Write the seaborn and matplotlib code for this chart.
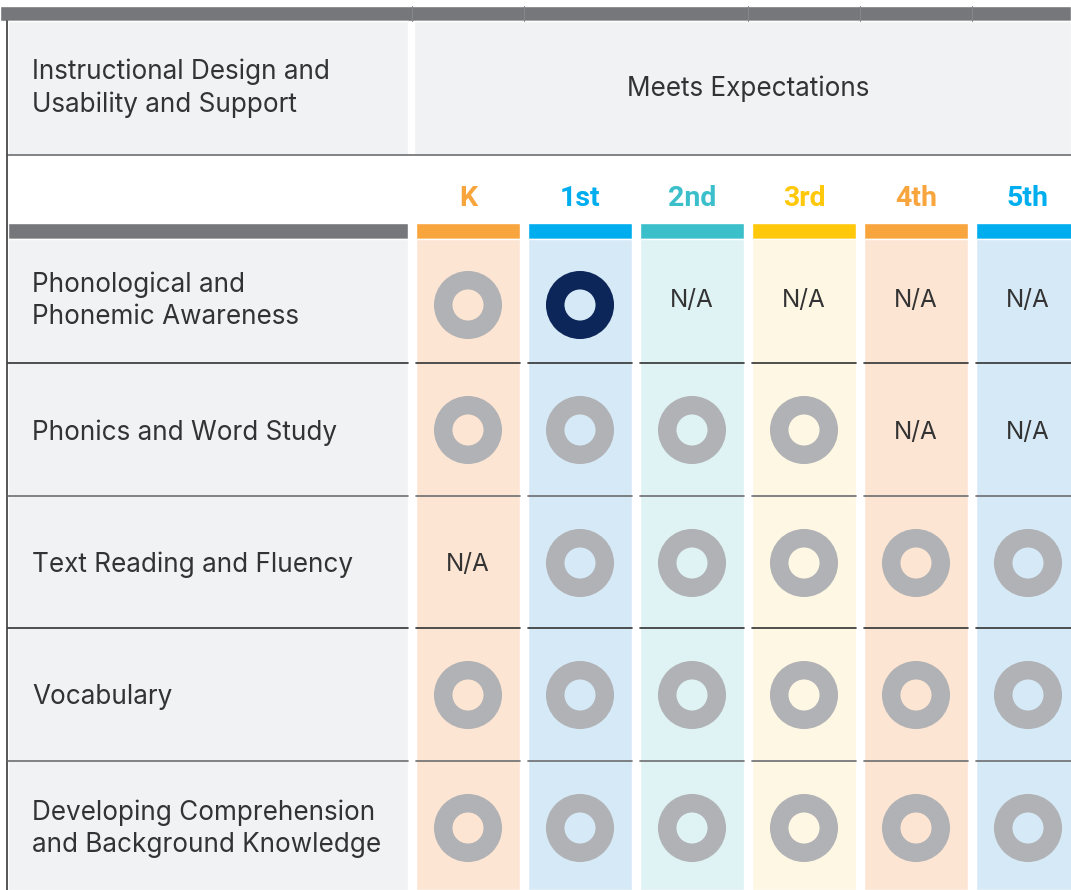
import matplotlib
matplotlib.use("Agg")
import matplotlib.pyplot as plt
import seaborn as sns
import pandas as pd

# table content
categories = [
    "Phonological and\nPhonemic Awareness",
    "Phonics and Word Study",
    "Text Reading and Fluency",
    "Vocabulary",
    "Developing Comprehension\nand Background Knowledge",
]
grades = ["K", "1st", "2nd", "3rd", "4th", "5th"]
# gray = standard rating, navy = highlighted rating, na = not applicable
ratings = [
    ["gray", "navy", "na", "na", "na", "na"],
    ["gray", "gray", "gray", "gray", "na", "na"],
    ["na", "gray", "gray", "gray", "gray", "gray"],
    ["gray", "gray", "gray", "gray", "gray", "gray"],
    ["gray", "gray", "gray", "gray", "gray", "gray"],
]
header_left = "Instructional Design and\nUsability and Support"
header_right = "Meets Expectations"

grade_colors = ["#f9a53e", "#00aeef", "#3bbfca", "#ffc80b", "#f9a53e", "#00aeef"]
grade_light = ["#fde5d4", "#d6e9f7", "#dff2f4", "#fef7e4", "#fde5d4", "#d6e9f7"]
ring_colors = {"gray": "#b1b2b5", "navy": "#0c2659"}
bar_gray = "#76777b"
cell_gray = "#f1f2f4"
text_col = "#333333"

sns.set_style("white")
plt.rcParams["font.family"] = ["Inter", "DejaVu Sans"]

fig = plt.figure(figsize=(10.71, 8.9), dpi=100)
ax = fig.add_axes([0, 0, 1, 1])
ax.set_xlim(0, 1071)
ax.set_ylim(890, 0)
ax.axis("off")

# layout (pixel units)
col_x0, col_w, col_step = 416, 104, 112
col_centers = [col_x0 + col_w / 2 + i * col_step for i in range(len(grades))]
row_bounds = [233, 363, 496, 628, 761, 890]
row_mid = [(a + b) / 2 for a, b in zip(row_bounds[:-1], row_bounds[1:])]
ring_y = [305, 430, 563, 695, 828]
left_x0, left_x1 = 8, 408
fs = 18.8

# top dark band
ax.bar(0, 15, width=1071, bottom=6, align="edge", color=bar_gray, zorder=1)
for sx in [412, 524, 748, 860, 972]:
    ax.plot([sx, sx], [6, 21], color="#86878b", lw=0.8, zorder=2)

# header cells
ax.bar(left_x0, 134, width=left_x1 - left_x0, bottom=21, align="edge", color=cell_gray, zorder=1)
ax.bar(414, 134, width=1071 - 414, bottom=21, align="edge", color=cell_gray, zorder=1)
ax.plot([left_x0, 1071], [155, 155], color="#6d6e71", lw=1.2, zorder=3)
ax.text(32, 88, header_left, ha="left", va="center", fontsize=fs,
        color=text_col, linespacing=1.3, zorder=4)
ax.text(748, 88.5, header_right, ha="center", va="center", fontsize=fs,
        color=text_col, zorder=4)

# grade header labels and color bars
ax.bar(left_x0, 16, width=left_x1 - left_x0, bottom=223, align="edge", color=bar_gray, zorder=1)
for i, g in enumerate(grades):
    x = col_x0 + i * col_step
    ax.bar(x, 16, width=col_w, bottom=223, align="edge", color=grade_colors[i], zorder=1)
    ax.bar(x, 890 - 239, width=col_w, bottom=239, align="edge", color=grade_light[i], zorder=1)
    ax.text(col_centers[i], 198, g, ha="center", va="center", fontsize=20.5, fontweight="bold",
            family="Roboto", color=grade_colors[i], zorder=4)

# left category cells
ax.bar(left_x0, 890 - 239, width=left_x1 - left_x0, bottom=239, align="edge", color=cell_gray, zorder=1)
ax.plot([7, 7], [21, 890], color="#3a3a3a", lw=1.2, zorder=3)
for k, yl in enumerate(row_bounds[1:-1]):
    lc = "#333333" if k % 2 == 0 else "#6d6e71"
    ax.plot([left_x0, left_x1], [yl, yl], color=lc, lw=1.2, zorder=3)
    for i in range(len(grades)):
        x = col_x0 + i * col_step
        ax.plot([x, x + col_w], [yl, yl], color=lc, lw=1.2, zorder=3)

for r, cat in enumerate(categories):
    ax.text(32, row_mid[r] + 3, cat, ha="left", va="center", fontsize=fs,
            color=text_col, linespacing=1.3, zorder=4)

# ratings
recs = []
for r in range(len(categories)):
    for i, g in enumerate(grades):
        recs.append({"x": col_centers[i], "y": ring_y[r], "ty": row_mid[r],
                     "rating": ratings[r][i], "grade": g})
df = pd.DataFrame(recs)
rings = df[df["rating"] != "na"]
na = df[df["rating"] == "na"]

sns.scatterplot(data=rings, x="x", y="y", hue="rating", palette=ring_colors, s=2400,
                linewidth=0, legend=False, ax=ax, zorder=5)
sns.scatterplot(data=rings, x="x", y="y", hue="grade", palette=dict(zip(grades, grade_light)),
                s=500, linewidth=0, legend=False, ax=ax, zorder=6)
for _, row in na.iterrows():
    ax.text(row["x"], row["ty"] + 3, "N/A", ha="center", va="center", fontsize=17.5,
            color=text_col, zorder=4)

ax.set_xlim(0, 1071)
ax.set_ylim(890, 0)
ax.set_xlabel("")
ax.set_ylabel("")
fig.savefig("out.png", dpi=100)
